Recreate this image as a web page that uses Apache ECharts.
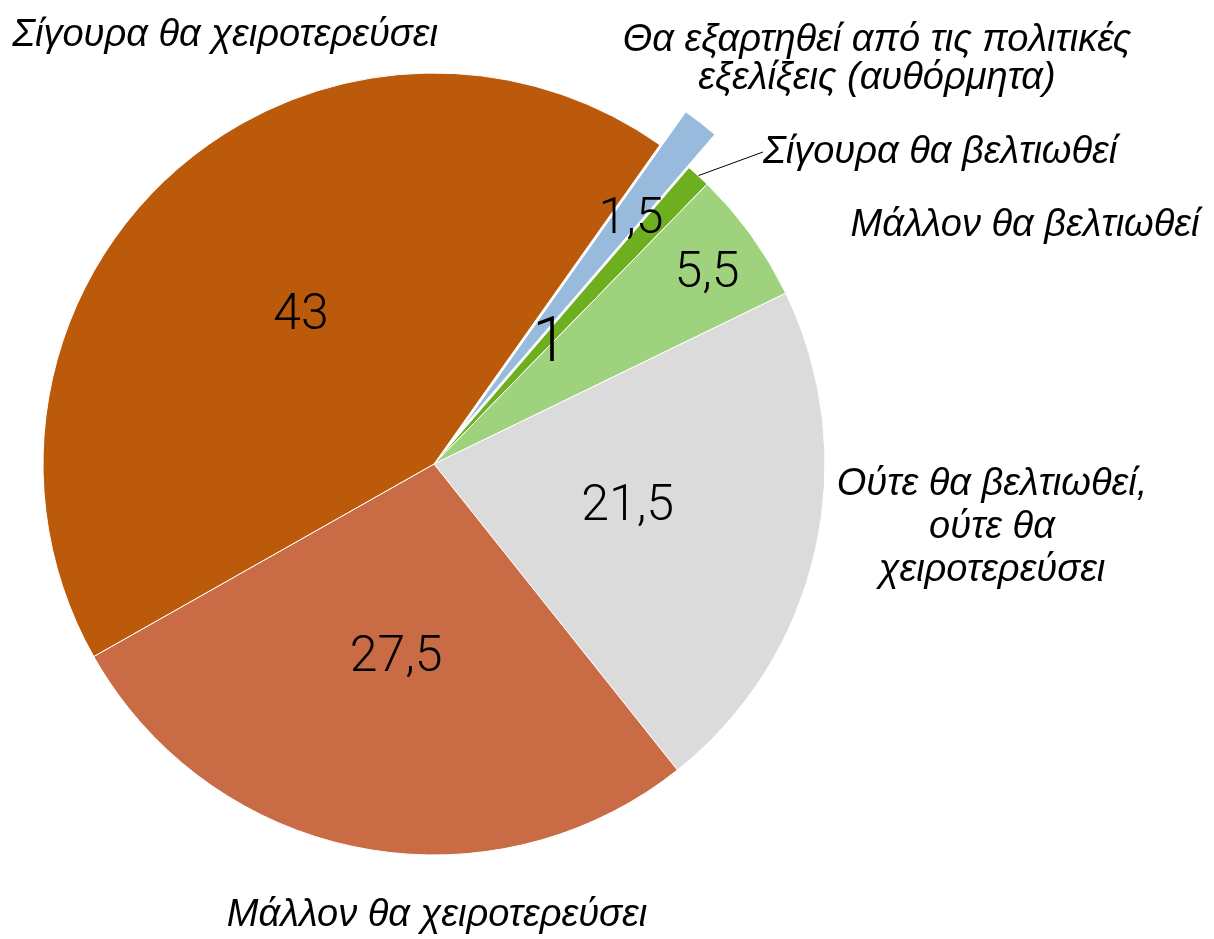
<!DOCTYPE html>
<html lang="el">
<head>
    <meta charset="UTF-8">
    <title>Πίτα</title>
    <script src="https://cdn.jsdelivr.net/npm/echarts@6/dist/echarts.min.js"></script>
    <style>
        html, body { margin: 0; padding: 0; background: #fff; }
    </style>
</head>
<body>
<div id="main" style="width: 1214px;height:939px;"></div>
<script>
    // data, clockwise from the exploded slice
    var categories = [
        'Θα εξαρτηθεί από τις πολιτικές\nεξελίξεις (αυθόρμητα)',
        'Σίγουρα θα βελτιωθεί',
        'Μάλλον θα βελτιωθεί',
        'Ούτε θα βελτιωθεί,\nούτε θα\nχειροτερεύσει',
        'Μάλλον θα χειροτερεύσει',
        'Σίγουρα θα χειροτερεύσει'
    ];
    var values = [1.5, 1, 5.5, 21.5, 27.5, 43];
    var colors = ['#98badc', '#6daf1e', '#9ed27c', '#dbdbdb', '#c96b44', '#bc5a0c'];
    var explodedIndex = 0;

    // where the names and the small value labels sit
    var namePos = [
        { x: 877, y: 59, align: 'center', lineHeight: 38 },
        { x: 763, y: 152, align: 'left' },
        { x: 1025, y: 225, align: 'center' },
        { x: 992, y: 527, align: 'center', lineHeight: 43 },
        { x: 437, y: 915, align: 'center' },
        { x: 225, y: 35, align: 'center' }
    ];
    var valuePos = { 0: [631, 220], 1: [550, 345], 2: [707, 274] };

    var center = [434, 464];
    var radius = 391;
    var offset = 42;
    var total = values.reduce(function (a, b) { return a + b; }, 0);
    // first slice starts 35.3 degrees clockwise from 12 o'clock
    var startDeg = 35.3;
    var startAngle = 90 - startDeg;

    // centre of the pulled-out slice, moved along its bisector
    var before = 0;
    for (var k = 0; k < explodedIndex; k++) before += values[k];
    var midDeg = startDeg + (before + values[explodedIndex] / 2) / total * 360;
    var midRad = midDeg * Math.PI / 180;
    var explodedCenter = [center[0] + offset * Math.sin(midRad), center[1] - offset * Math.cos(midRad)];

    function fmt(v) { return String(v).replace('.', ','); }

    var valueLabel = {
        show: true,
        position: 'inside',
        color: '#000',
        fontFamily: 'Roboto',
        fontWeight: 300,
        fontSize: 50,
        formatter: function (p) { return fmt(p.value); }
    };

    function valueLayout(p) {
        var pos = valuePos[p.dataIndex];
        if (!pos) return {};
        return { x: pos[0], y: pos[1], align: 'center', verticalAlign: 'middle' };
    }

    var myChart = echarts.init(document.getElementById('main'));

    var option = {
        animation: false,
        series: [
            {
                name: 'values',
                type: 'pie',
                silent: true,
                center: center,
                radius: radius,
                startAngle: startAngle,
                clockwise: true,
                avoidLabelOverlap: false,
                itemStyle: { borderColor: '#fff', borderWidth: 1 },
                label: valueLabel,
                labelLine: { show: false },
                labelLayout: valueLayout,
                data: values.map(function (v, i) {
                    var hidden = i === explodedIndex;
                    return {
                        name: categories[i],
                        value: v,
                        itemStyle: hidden ? { color: 'rgba(0,0,0,0)', borderWidth: 0 } : { color: colors[i] },
                        label: hidden ? { show: false } : (i === 1 ? { fontSize: 63 } : undefined)
                    };
                })
            },
            {
                name: 'exploded',
                type: 'pie',
                silent: true,
                center: explodedCenter,
                radius: radius,
                startAngle: startAngle,
                clockwise: true,
                avoidLabelOverlap: false,
                itemStyle: { borderColor: '#fff', borderWidth: 1 },
                label: valueLabel,
                labelLine: { show: false },
                labelLayout: valueLayout,
                data: values.map(function (v, i) {
                    var shown = i === explodedIndex;
                    return {
                        name: categories[i],
                        value: v,
                        itemStyle: shown ? { color: colors[i] } : { color: 'rgba(0,0,0,0)', borderWidth: 0 },
                        label: shown ? undefined : { show: false }
                    };
                })
            },
            {
                name: 'names',
                type: 'pie',
                silent: true,
                center: center,
                radius: radius,
                startAngle: startAngle,
                clockwise: true,
                avoidLabelOverlap: false,
                itemStyle: { color: 'rgba(0,0,0,0)' },
                label: {
                    show: true,
                    position: 'outside',
                    color: '#000',
                    fontFamily: '"Liberation Sans", Arial, sans-serif',
                    fontStyle: 'italic',
                    fontSize: 38,
                    lineHeight: 41,
                    formatter: '{b}'
                },
                labelLine: { show: false },
                labelLayout: function (p) {
                    var pos = namePos[p.dataIndex];
                    return { x: pos.x, y: pos.y, align: pos.align, verticalAlign: 'middle' };
                },
                data: values.map(function (v, i) {
                    var item = { name: categories[i], value: v };
                    if (namePos[i].lineHeight) item.label = { lineHeight: namePos[i].lineHeight };
                    if (i === 1) {
                        item.labelLine = {
                            show: true, length: 0, length2: 0,
                            lineStyle: { color: '#000', width: 1 }
                        };
                    }
                    return item;
                })
            }
        ]
    };
    myChart.setOption(option);
</script>
</body>
</html>
